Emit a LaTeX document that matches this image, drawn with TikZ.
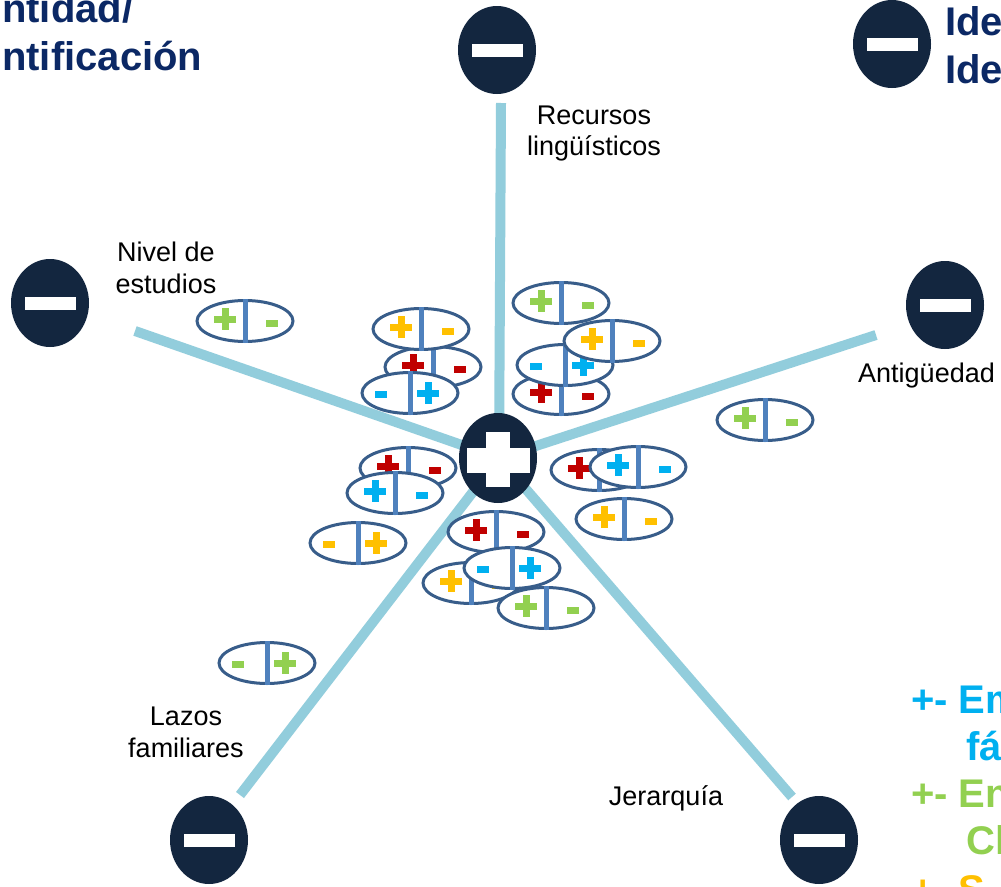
\documentclass[tikz,border=0pt]{standalone}
\usepackage{fontspec}
\setmainfont{Liberation Sans}
\usetikzlibrary{shapes.geometric}
\definecolor{navy}{HTML}{13263F}
\definecolor{titleblue}{HTML}{0B2865}
\definecolor{spokecol}{HTML}{92CDDC}
\definecolor{ellline}{HTML}{385D8A}
\definecolor{divline}{HTML}{4F81BD}
\definecolor{cred}{HTML}{C00000}
\definecolor{ccyan}{HTML}{00B0F0}
\definecolor{cgreen}{HTML}{92D050}
\definecolor{corange}{HTML}{FFC000}
\tikzset{
  minuscirc/.style={ellipse, fill=navy, minimum width=78, minimum height=88, inner sep=0},
  hubcirc/.style={ellipse, fill=navy, minimum width=78, minimum height=90, inner sep=0},
  spoke/.style={draw=spokecol, line width=10},
  pmell/.style={ellipse, draw=ellline, line width=3, fill=white, minimum width=96, minimum height=41, inner sep=0},
  divider/.style={draw=divline, line width=5},
  lbl/.style={font=\fontsize{27}{32}\selectfont, anchor=base, inner sep=0, text=black},
  ttl/.style={font=\fontsize{40}{47}\selectfont\bfseries, anchor=base west, inner sep=0, text=titleblue},
  leg/.style={font=\fontsize{40}{47}\selectfont\bfseries, anchor=base west, inner sep=0},
}
\newcommand{\plusmark}[3]{%
  \fill[#3] (#1-11,#2-3.5) rectangle (#1+11,#2+3.5);
  \fill[#3] (#1-3.5,#2-11) rectangle (#1+3.5,#2+11);}
\newcommand{\minusmark}[3]{%
  \fill[#3] (#1-6,#2-3.5) rectangle (#1+6,#2+3.5);}
\newcommand{\ellPM}[4]{%
  \node[pmell] (#1) at (#2,#3) {};
  \draw[divider] (#1.north) -- (#1.south);
  \plusmark{#2-20}{#3-2}{#4}
  \minusmark{#2+27}{#3+2}{#4}}
\newcommand{\ellMP}[4]{%
  \node[pmell] (#1) at (#2,#3) {};
  \draw[divider] (#1.north) -- (#1.south);
  \minusmark{#2-29}{#3+1}{#4}
  \plusmark{#2+18}{#3}{#4}}
\newcommand{\minuscircle}[3]{%
  \node[minuscirc] (#1) at (#2,#3) {};
  \fill[white] (#2-25.5,#3-6.5) rectangle (#2+25.5,#3+6.5);}
\begin{document}
\begin{tikzpicture}[x=1pt,y=-1pt]
\useasboundingbox (0,0) rectangle (1001,886);
\fill[white] (0,0) rectangle (1001,886);
\clip (0,0) rectangle (1001,886);

% spokes
\coordinate (hubc) at (499,458);
\coordinate (sTop) at (501,103);
\coordinate (sLeft) at (135,331);
\coordinate (sRight) at (876,335);
\coordinate (sBL) at (240,795);
\coordinate (sBR) at (792,797);
\draw[spoke] (sTop) -- (hubc);
\draw[spoke] (sLeft) -- (hubc);
\draw[spoke] (sRight) -- (hubc);
\draw[spoke] (sBL) -- (hubc);
\draw[spoke] (sBR) -- (hubc);

% hub
\node[hubcirc] (hub) at (498,458) {};
\fill[white] (498-31.5,460-12.5) rectangle (498+31.5,460+12.5);
\fill[white] (498-12,459-27.5) rectangle (498+12,459+27.5);

% minus circles
\minuscircle{mTop}{497}{50}
\minuscircle{mLeft}{50}{303}
\minuscircle{mRight}{945}{305}
\minuscircle{mTR}{892}{44}
\minuscircle{mBL}{209}{840}
\minuscircle{mBR}{819}{840}

% ellipses
\ellPM{e3}{433}{367}{cred}
\ellPM{e2}{421}{329}{corange}
\ellMP{e4}{410}{393}{ccyan}
\ellPM{e8}{561}{394}{cred}
\ellMP{e7}{565}{365}{ccyan}
\ellPM{e5}{561}{303}{cgreen}
\ellPM{e6}{612}{341}{corange}
\ellPM{e9}{408}{468}{cred}
\ellPM{e10}{395}{493}{ccyan}
\ellMP{e11}{358}{543}{corange}
\ellPM{e12}{496}{532}{cred}
\ellPM{e13}{471}{583}{corange}
\ellMP{e14}{512}{568}{ccyan}
\ellPM{e15}{546}{608}{cgreen}
\ellPM{e16}{599}{470}{cred}
\ellPM{e17}{638}{467}{ccyan}
\ellPM{e18}{624}{519}{corange}
\ellPM{e1}{245}{321}{cgreen}
\ellPM{e19}{765}{420}{cgreen}
\ellMP{e20}{267}{663}{cgreen}

% labels
\node[lbl] (rec1) at (594,124) {Recursos};
\node[lbl] (rec2) at (594,155) {lingüísticos};
\node[lbl] (niv1) at (166,261) {Nivel de};
\node[lbl] (niv2) at (166,293) {estudios};
\node[lbl, anchor=base west] (ant) at (858,382) {Antigüedad};
\node[lbl] (laz1) at (186,725) {Lazos};
\node[lbl] (laz2) at (186,757) {familiares};
\node[lbl] (jer) at (666,805) {Jerarquía};

% titles
\node[ttl] (t1) at (2,23) {ntidad/};
\node[ttl] (t2) at (2,70) {ntificación};
\node[ttl] (t3) at (945,35) {Ide};
\node[ttl] (t4) at (945,83) {Ide};

% legend
\node[leg, text=ccyan] (l1) at (911,713) {+- Em};
\node[leg, text=ccyan] (l2) at (966,760) {fá};
\node[leg, text=cgreen] (l3) at (911,807) {+- En};
\node[leg, text=cgreen] (l4) at (966,854) {Cl};
\node[leg, text=corange] (l5) at (911,903) {+- S};
\end{tikzpicture}
\end{document}
